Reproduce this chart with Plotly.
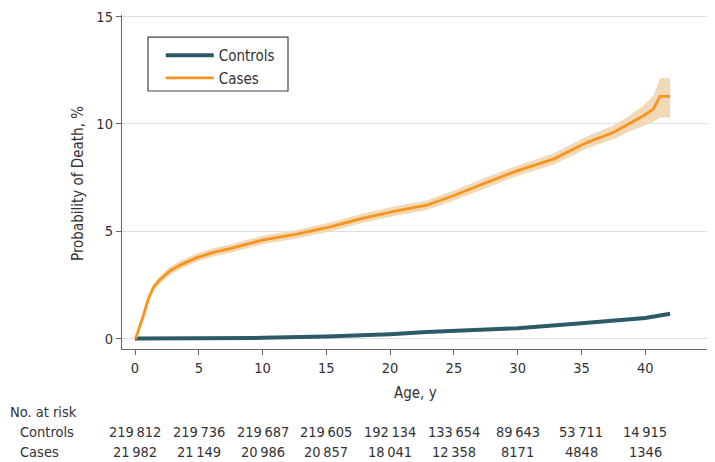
import plotly.graph_objects as go

# ---- data ----
age_cases = [0, 0.08, 0.65, 1.04, 1.44, 1.96, 2.74, 3.53, 4.84, 6.15, 7.45, 10.06, 12.68,
             15.29, 17.9, 20.5, 22.86, 24.95, 27.57, 30.18, 32.8, 35.41, 37.5, 38.81,
             39.86, 40.64, 41.16, 41.95]
cases = [0, 0.05, 1.06, 1.83, 2.38, 2.74, 3.15, 3.42, 3.77, 4.01, 4.19, 4.60, 4.86,
         5.20, 5.61, 5.95, 6.21, 6.65, 7.27, 7.86, 8.36, 9.13, 9.60, 10.03,
         10.38, 10.69, 11.28, 11.28]
cases_lo = [0, 0.02, 0.95, 1.68, 2.22, 2.56, 2.96, 3.23, 3.58, 3.82, 4.00, 4.40, 4.66,
            4.99, 5.39, 5.73, 5.99, 6.42, 7.03, 7.62, 8.10, 8.85, 9.28, 9.66,
            9.90, 10.10, 10.30, 10.30]
cases_hi = [0, 0.08, 1.17, 1.98, 2.54, 2.92, 3.34, 3.61, 3.96, 4.20, 4.38, 4.80, 5.06,
            5.41, 5.83, 6.17, 6.43, 6.88, 7.51, 8.10, 8.62, 9.41, 9.92, 10.40,
            10.86, 11.30, 12.13, 12.13]

age_controls = [0, 5, 10, 15, 17.9, 20, 22.86, 25, 30, 35, 40, 41.95]
controls = [0, 0.01, 0.03, 0.09, 0.15, 0.20, 0.30, 0.34, 0.48, 0.71, 0.96, 1.15]

risk_times = [0, 5, 10, 15, 20, 25, 30, 35, 40]
risk_controls = ["219\u2009812", "219\u2009736", "219\u2009687", "219\u2009605", "192\u2009134",
                 "133\u2009654", "89\u2009643", "53\u2009711", "14\u2009915"]
risk_cases = ["21\u2009982", "21\u2009149", "20\u2009986", "20\u2009857", "18\u2009041",
              "12\u2009358", "8171", "4848", "1346"]

x_ticks = [0, 5, 10, 15, 20, 25, 30, 35, 40, 45]
y_ticks = [0, 5, 10, 15]

# ---- style ----
FONT = "Liberation Sans Narrow, DejaVu Sans Condensed, Roboto, sans-serif"
C_CTRL = "#2C5B67"
C_CASE = "#F7941D"
C_BAND = "rgba(240,214,178,0.95)"
TXT = "#333333"
AX = "#666666"
FS = 14.5

fig = go.Figure()

fig.add_trace(go.Scatter(x=age_cases, y=cases_lo, mode="lines", line=dict(width=0),
                         showlegend=False, hoverinfo="skip"))
fig.add_trace(go.Scatter(x=age_cases, y=cases_hi, mode="lines", line=dict(width=0),
                         fill="tonexty", fillcolor=C_BAND, showlegend=False, hoverinfo="skip"))
fig.add_trace(go.Scatter(x=age_controls, y=controls, mode="lines", name="Controls",
                         line=dict(color=C_CTRL, width=4)))
fig.add_trace(go.Scatter(x=age_cases, y=cases, mode="lines", name="Cases",
                         line=dict(color=C_CASE, width=2.8)))


def txt(x, y, s, xref="paper", xanchor="left", size=FS, angle=0):
    return dict(x=x, y=y, xref=xref, yref="paper", text=s, showarrow=False,
                xanchor=xanchor, yanchor="middle", textangle=angle,
                font=dict(size=size, color=TXT, family=FONT))


annotations = [txt(-0.194, -0.1886, "No. at risk"),
               txt(-0.177, -0.2485, "Controls"),
               txt(-0.177, -0.3084, "Cases"),
               txt(0.5, -0.1317, "Age, y", xanchor="center", size=15),
               txt(-0.075, 0.497, "Probability of Death, %", xanchor="center", size=15, angle=-90)]
for t, c1, c2 in zip(risk_times, risk_controls, risk_cases):
    annotations.append(txt(t, -0.2485, c1, xref="x", xanchor="center"))
    annotations.append(txt(t, -0.3084, c2, xref="x", xanchor="center"))

# legend frame
shapes = [dict(type="rect", xref="paper", yref="paper", x0=0.0443, x1=0.2828,
               y0=0.7725, y1=0.934, line=dict(color="#444444", width=1.2),
               fillcolor="rgba(0,0,0,0)", layer="above")]

# page body has an 8px margin: figure is 707x454 placed at (8, 8)
fig.update_layout(
    width=707, height=454,
    margin=dict(l=114, r=6, t=7, b=113),
    paper_bgcolor="white", plot_bgcolor="white",
    font=dict(family=FONT, color=TXT, size=FS),
    showlegend=True,
    legend=dict(x=0.066, y=0.928, xanchor="left", yanchor="top",
                borderwidth=0, bgcolor="rgba(255,255,255,0)",
                font=dict(size=15, color=TXT, family=FONT),
                itemwidth=48, tracegroupgap=0, traceorder="normal"),
    annotations=annotations,
    shapes=shapes,
    xaxis=dict(range=[-1.02, 45], tickvals=x_ticks, showgrid=False, zeroline=False,
               showline=True, linecolor=AX, linewidth=1.3, ticks="outside", ticklen=5,
               tickcolor=AX, tickwidth=1.3, tickfont=dict(size=FS, color=TXT),
               automargin=False),
    yaxis=dict(range=[-0.489, 15.074], tickvals=y_ticks, showgrid=True, gridcolor="#DEDEDE",
               gridwidth=1.2, zeroline=False, showline=True, linecolor=AX, linewidth=1.3,
               ticks="outside", ticklen=5, tickcolor=AX, tickwidth=1.3,
               tickfont=dict(size=FS, color=TXT), automargin=False),
)

fig.write_html("out.html")
